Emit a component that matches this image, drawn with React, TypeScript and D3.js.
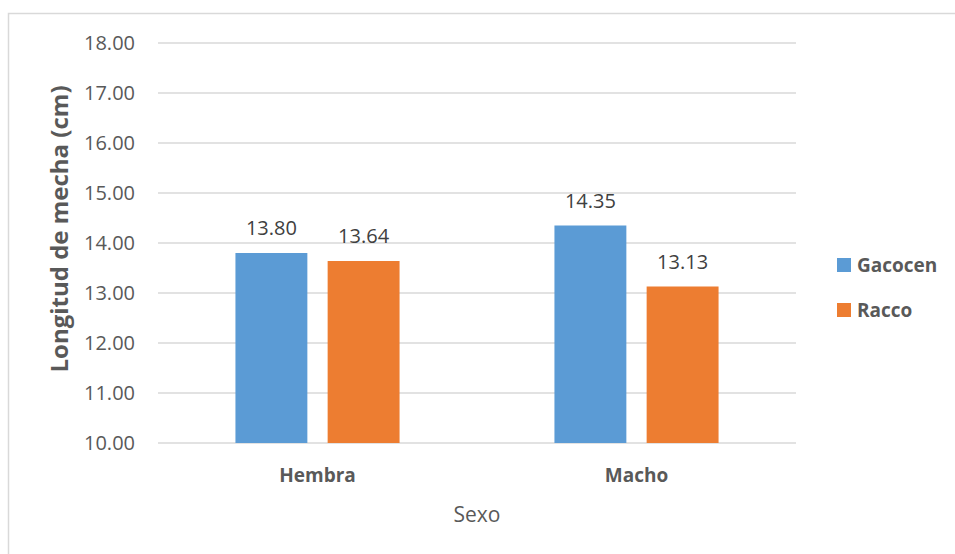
import * as d3 from 'd3';

const categories = ['Hembra', 'Macho'];
const seriesNames = ['Gacocen', 'Racco'];
const gacocen = [13.8, 14.35];
const racco = [13.64, 13.13];
const yTicks = [10, 11, 12, 13, 14, 15, 16, 17, 18];

const COLORS: Record<string, string> = { Gacocen: '#5B9BD5', Racco: '#ED7D31' };
const FONT = '"Open Sans", "DejaVu Sans", sans-serif';

export default function App() {
  const width = 955;
  const height = 554;
  const margin = { top: 43, right: 159, bottom: 111, left: 158 };

  const x0 = d3.scaleBand<string>().domain(categories).range([margin.left, width - margin.right]);
  const x1 = d3.scaleBand<string>().domain(seriesNames).range([0, x0.bandwidth()]).paddingInner(0.22).paddingOuter(0.84);
  const y = d3.scaleLinear().domain([10, 18]).range([height - margin.bottom, margin.top]);

  const rows = categories.map((c, i) => ({ cat: c, values: [gacocen[i], racco[i]] }));

  return (
    <svg width={width} height={height} style={{ position: 'absolute', left: 0, top: 0, background: '#fff' }}>
      {/* chart border */}
      <rect x={8.5} y={13.5} width={960} height={560} fill="#fff" stroke="#D9D9D9" strokeWidth={1.5} />

      {/* gridlines + tick labels */}
      {yTicks.map(t => (
        <g key={t}>
          <line x1={margin.left} x2={width - margin.right} y1={y(t)} y2={y(t)} stroke="#D9D9D9" strokeWidth={1.3} />
          <text x={135} y={y(t)} dy="0.35em" textAnchor="end" fontFamily={FONT} fontSize={20} fill="#595959">
            {t.toFixed(2)}
          </text>
        </g>
      ))}

      {/* bars + data labels */}
      {rows.map(r => (
        <g key={r.cat} transform={`translate(${x0(r.cat)},0)`}>
          {r.values.map((v, j) => {
            const s = seriesNames[j];
            const bx = x1(s) ?? 0;
            return (
              <g key={s}>
                <rect x={bx} y={y(v)} width={x1.bandwidth()} height={y(10) - y(v)} fill={COLORS[s]} />
                <text x={bx + x1.bandwidth() / 2} y={y(v) - 18} textAnchor="middle" fontFamily={FONT} fontSize={20} fill="#404040">
                  {v.toFixed(2)}
                </text>
              </g>
            );
          })}
        </g>
      ))}

      {/* category labels */}
      {categories.map(c => (
        <text key={c} x={(x0(c) ?? 0) + x0.bandwidth() / 2} y={482} textAnchor="middle" fontFamily={FONT} fontSize={19} fontWeight="bold" fill="#595959">
          {c}
        </text>
      ))}

      {/* axis titles */}
      <text x={477} y={522} textAnchor="middle" fontFamily={FONT} fontSize={21} fill="#595959">Sexo</text>
      <text transform="translate(68,229) rotate(-90)" textAnchor="middle" fontFamily={FONT} fontSize={24} fontWeight="bold" fill="#595959">
        Longitud de mecha (cm)
      </text>

      {/* legend */}
      {seriesNames.map((s, i) => (
        <g key={s} transform={`translate(837,${258 + i * 45})`}>
          <rect width={14} height={14} fill={COLORS[s]} />
          <text x={20} y={14} fontFamily={FONT} fontSize={19} fontWeight="bold" fill="#595959">{s}</text>
        </g>
      ))}
    </svg>
  );
}
